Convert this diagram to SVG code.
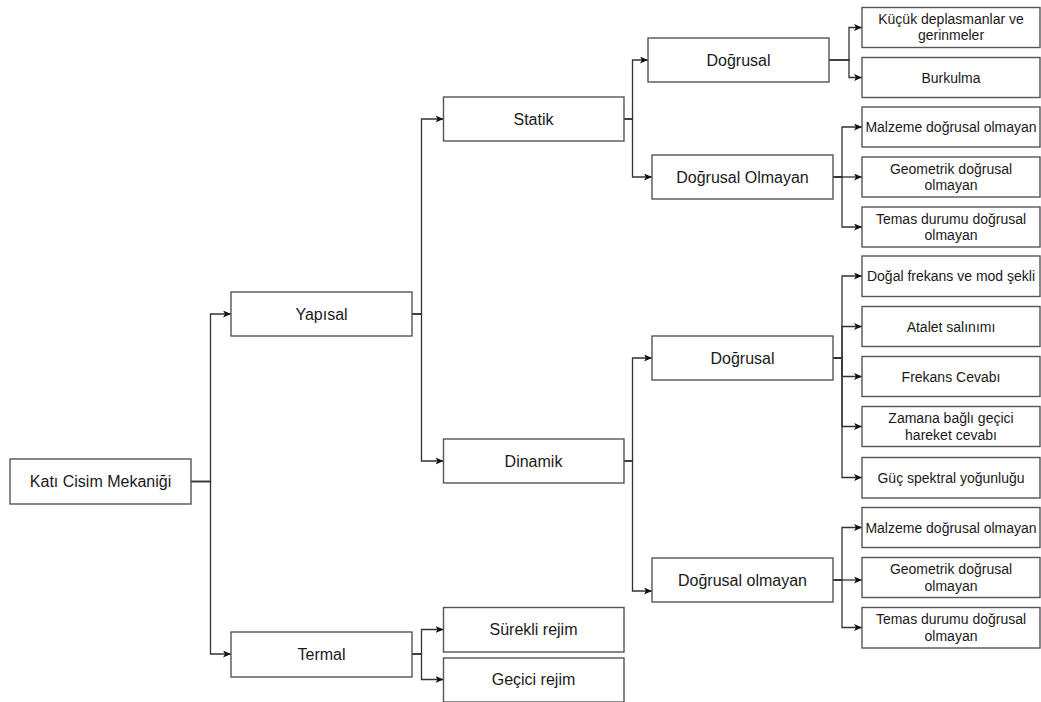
<svg xmlns="http://www.w3.org/2000/svg" width="1041" height="702" viewBox="0 0 1041 702">
<style>
.b{fill:#fff;stroke:#555;stroke-width:1.4}
.t{font-family:"Liberation Sans",Arial,sans-serif;font-size:16px;fill:#1a1a1a;text-anchor:middle}
.s{font-family:"Liberation Sans",Arial,sans-serif;font-size:14px;fill:#1a1a1a;text-anchor:middle}
.c{fill:none;stroke:#333;stroke-width:1.3;marker-end:url(#a)}
</style>
<defs>
<marker id="a" markerUnits="userSpaceOnUse" markerWidth="9" markerHeight="8" refX="8" refY="3.5" orient="auto">
<path d="M0,0 L8,3.5 L0,7 L2,3.5 z" fill="#111"/>
</marker>
</defs>
<rect width="1041" height="702" fill="#fff"/>
<g id="connectors">
<path class="c" d="M191 481.5 H210.5 V314 H231"/>
<path class="c" d="M191 481.5 H210.5 V654 H231"/>
<path class="c" d="M412 314 H421.5 V119 H443.5"/>
<path class="c" d="M412 314 H421.5 V461 H443.5"/>
<path class="c" d="M412 654 H421.5 V629.5 H443.5"/>
<path class="c" d="M412 654 H421.5 V679.5 H443.5"/>
<path class="c" d="M624 119 H632.5 V60 H648"/>
<path class="c" d="M624 119 H632.5 V177 H652"/>
<path class="c" d="M624 461 H632.5 V358 H652"/>
<path class="c" d="M624 461 H632.5 V591 H652"/>
<path class="c" d="M829 60 H849 V27.5 H862"/>
<path class="c" d="M829 60 H849 V77.5 H862"/>
<path class="c" d="M833 177 H842 V127 H862"/>
<path class="c" d="M833 177 H862"/>
<path class="c" d="M833 177 H842 V227 H862"/>
<path class="c" d="M833 358 H842 V276 H862"/>
<path class="c" d="M833 358 H842 V326.5 H862"/>
<path class="c" d="M833 358 H842 V376.5 H862"/>
<path class="c" d="M833 358 H842 V426.5 H862"/>
<path class="c" d="M833 358 H842 V477.5 H862"/>
<path class="c" d="M833 580 H842 V527.5 H862"/>
<path class="c" d="M833 580 H862"/>
<path class="c" d="M833 580 H842 V627.5 H862"/>
</g>
<g id="n-kati"><rect class="b" x="10" y="459" width="181" height="45"/><text class="t" x="100.5" y="487">Katı Cisim Mekaniği</text></g>
<g id="n-yapisal"><rect class="b" x="231" y="292" width="181" height="44"/><text class="t" x="321.5" y="319.5">Yapısal</text></g>
<g id="n-termal"><rect class="b" x="231" y="632" width="181" height="45"/><text class="t" x="321.5" y="660">Termal</text></g>
<g id="n-statik"><rect class="b" x="443.5" y="97" width="180.5" height="44"/><text class="t" x="533.5" y="124.5">Statik</text></g>
<g id="n-dinamik"><rect class="b" x="443.5" y="439" width="180.5" height="44"/><text class="t" x="533.5" y="466.5">Dinamik</text></g>
<g id="n-surekli"><rect class="b" x="443.5" y="607.5" width="180.5" height="44.5"/><text class="t" x="533.5" y="635">Sürekli rejim</text></g>
<g id="n-gecici"><rect class="b" x="443.5" y="658" width="180.5" height="44"/><text class="t" x="533.5" y="685">Geçici rejim</text></g>
<g id="n-s-dogrusal"><rect class="b" x="648" y="38" width="181" height="44"/><text class="t" x="738.5" y="65.5">Doğrusal</text></g>
<g id="n-s-dogrusal-olmayan"><rect class="b" x="652" y="155" width="181" height="44"/><text class="t" x="742.5" y="182.5">Doğrusal Olmayan</text></g>
<g id="n-d-dogrusal"><rect class="b" x="652" y="336" width="181" height="44"/><text class="t" x="742.5" y="363.5">Doğrusal</text></g>
<g id="n-d-dogrusal-olmayan"><rect class="b" x="652" y="558" width="181" height="44"/><text class="t" x="742.5" y="585.5">Doğrusal olmayan</text></g>
<g id="n-kucuk"><rect class="b" x="862" y="7.5" width="178" height="40"/><text class="s" x="951" y="23.5">Küçük deplasmanlar ve</text><text class="s" x="951" y="40">gerinmeler</text></g>
<g id="n-burkulma"><rect class="b" x="862" y="57.5" width="178" height="40"/><text class="s" x="951" y="82.5">Burkulma</text></g>
<g id="n-malzeme1"><rect class="b" x="862" y="107" width="178" height="40"/><text class="s" x="951" y="132">Malzeme doğrusal olmayan</text></g>
<g id="n-geometrik1"><rect class="b" x="862" y="157" width="178" height="40"/><text class="s" x="951" y="173.5">Geometrik doğrusal</text><text class="s" x="951" y="190">olmayan</text></g>
<g id="n-temas1"><rect class="b" x="862" y="207" width="178" height="40"/><text class="s" x="951" y="223.5">Temas durumu doğrusal</text><text class="s" x="951" y="240">olmayan</text></g>
<g id="n-dogal"><rect class="b" x="862" y="256" width="178" height="40.5"/><text class="s" x="951" y="281">Doğal frekans ve mod şekli</text></g>
<g id="n-atalet"><rect class="b" x="862" y="306.5" width="178" height="40"/><text class="s" x="951" y="331.5">Atalet salınımı</text></g>
<g id="n-frekans"><rect class="b" x="862" y="356.5" width="178" height="40"/><text class="s" x="951" y="381.5">Frekans Cevabı</text></g>
<g id="n-zamana"><rect class="b" x="862" y="406.5" width="178" height="40"/><text class="s" x="951" y="423">Zamana bağlı geçici</text><text class="s" x="951" y="439.5">hareket cevabı</text></g>
<g id="n-guc"><rect class="b" x="862" y="457.5" width="178" height="40.5"/><text class="s" x="951" y="482.5">Güç spektral yoğunluğu</text></g>
<g id="n-malzeme2"><rect class="b" x="862" y="507.5" width="178" height="40"/><text class="s" x="951" y="532.5">Malzeme doğrusal olmayan</text></g>
<g id="n-geometrik2"><rect class="b" x="862" y="557.5" width="178" height="40"/><text class="s" x="951" y="574">Geometrik doğrusal</text><text class="s" x="951" y="590.5">olmayan</text></g>
<g id="n-temas2"><rect class="b" x="862" y="607.5" width="178" height="40.5"/><text class="s" x="951" y="624">Temas durumu doğrusal</text><text class="s" x="951" y="640.5">olmayan</text></g>
</svg>
